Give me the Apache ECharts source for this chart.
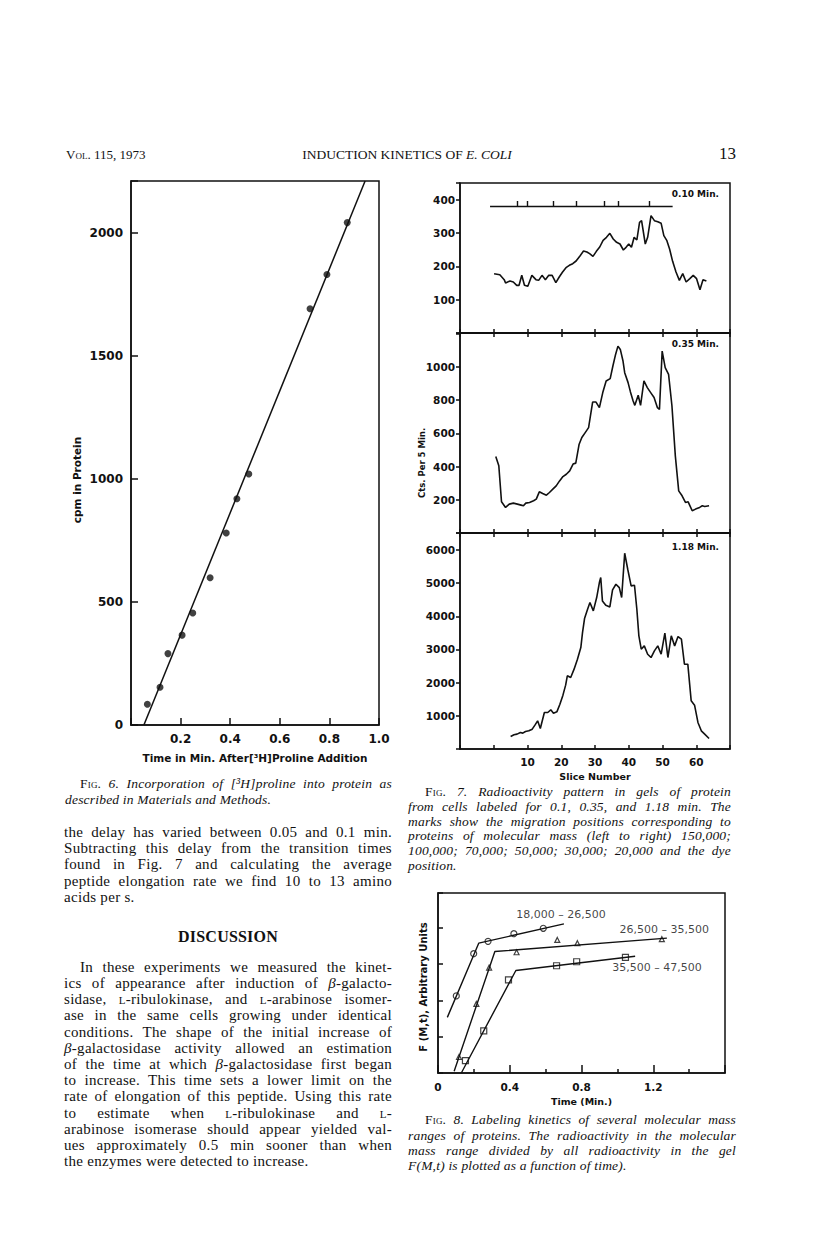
<!DOCTYPE html>
<html>
<head>
<meta charset="utf-8">
<script src="https://cdn.jsdelivr.net/npm/echarts@6/dist/echarts.min.js"></script>
<style>
html, body { margin: 0; padding: 0; background: #fff; }
#page { position: relative; width: 816px; height: 1244px; overflow: hidden; }
#chart { position: absolute; left: 0; top: 0; width: 816px; height: 1244px; }
.ln { position: absolute; white-space: nowrap; font-family: "Liberation Serif", serif; font-size: 15px; line-height: 16px; color: #111; letter-spacing: 0.3px; }
.j { text-align: justify; text-align-last: justify; }
.cap { font-style: italic; font-size: 13.5px; letter-spacing: 0.2px; }
.sc { font-variant: small-caps; font-style: normal; }
</style>
</head>
<body>
<div id="page">
  <div id="chart"></div>

  <!-- running head -->
  <div class="ln" style="left:66px;top:147px;font-size:13px;letter-spacing:0"><span class="sc">Vol.</span> 115, 1973</div>
  <div class="ln" style="left:200px;top:147px;width:414px;text-align:center;font-size:13.5px;letter-spacing:0">INDUCTION KINETICS OF <i>E. COLI</i></div>
  <div class="ln" style="left:719px;top:146px;font-size:17px;letter-spacing:0">13</div>

  <!-- fig 6 caption -->
  <div class="ln cap j" style="left:80px;top:776px;width:312px"><span class="sc">Fig.</span> 6. Incorporation of [³<i>H</i>]proline into protein as</div>
  <div class="ln cap" style="left:65px;top:792px">described in Materials and Methods.</div>

  <!-- left column text -->
  <div class="ln j" style="left:64px;top:824px;width:328px">the delay has varied between 0.05 and 0.1 min.</div>
  <div class="ln j" style="left:64px;top:840px;width:328px">Subtracting this delay from the transition times</div>
  <div class="ln j" style="left:64px;top:856px;width:328px">found in Fig. 7 and calculating the average</div>
  <div class="ln j" style="left:64px;top:873px;width:328px">peptide elongation rate we find 10 to 13 amino</div>
  <div class="ln" style="left:64px;top:889px">acids per s.</div>

  <div class="ln" style="left:64px;top:929px;width:328px;text-align:center;font-weight:bold;font-size:16px;letter-spacing:0.2px">DISCUSSION</div>

  <div class="ln j" style="left:80px;top:959px;width:312px">In these experiments we measured the kinet-</div>
  <div class="ln j" style="left:64px;top:975px;width:328px">ics of appearance after induction of <i>β</i>-galacto-</div>
  <div class="ln j" style="left:64px;top:991px;width:328px">sidase, <span class="sc">l</span>-ribulokinase, and <span class="sc">l</span>-arabinose isomer-</div>
  <div class="ln j" style="left:64px;top:1007px;width:328px">ase in the same cells growing under identical</div>
  <div class="ln j" style="left:64px;top:1024px;width:328px">conditions. The shape of the initial increase of</div>
  <div class="ln j" style="left:64px;top:1040px;width:328px"><i>β</i>-galactosidase activity allowed an estimation</div>
  <div class="ln j" style="left:64px;top:1056px;width:328px">of the time at which <i>β</i>-galactosidase first began</div>
  <div class="ln j" style="left:64px;top:1072px;width:328px">to increase. This time sets a lower limit on the</div>
  <div class="ln j" style="left:64px;top:1088px;width:328px">rate of elongation of this peptide. Using this rate</div>
  <div class="ln j" style="left:64px;top:1105px;width:328px">to estimate when <span class="sc">l</span>-ribulokinase and <span class="sc">l</span>-</div>
  <div class="ln j" style="left:64px;top:1121px;width:328px">arabinose isomerase should appear yielded val-</div>
  <div class="ln j" style="left:64px;top:1137px;width:328px">ues approximately 0.5 min sooner than when</div>
  <div class="ln" style="left:64px;top:1153px">the enzymes were detected to increase.</div>

  <!-- fig 7 caption -->
  <div class="ln cap j" style="left:425px;top:784px;width:306px"><span class="sc">Fig.</span> 7. Radioactivity pattern in gels of protein</div>
  <div class="ln cap j" style="left:408px;top:799px;width:323px">from cells labeled for 0.1, 0.35, and 1.18 min. The</div>
  <div class="ln cap j" style="left:408px;top:814px;width:323px">marks show the migration positions corresponding to</div>
  <div class="ln cap j" style="left:408px;top:828px;width:323px">proteins of molecular mass (left to right) 150,000;</div>
  <div class="ln cap j" style="left:408px;top:843px;width:323px">100,000; 70,000; 50,000; 30,000; 20,000 and the dye</div>
  <div class="ln cap" style="left:408px;top:858px">position.</div>

  <!-- fig 8 caption -->
  <div class="ln cap j" style="left:425px;top:1112px;width:311px"><span class="sc">Fig.</span> 8. Labeling kinetics of several molecular mass</div>
  <div class="ln cap j" style="left:408px;top:1128px;width:328px">ranges of proteins. The radioactivity in the molecular</div>
  <div class="ln cap j" style="left:408px;top:1143px;width:328px">mass range divided by all radioactivity in the gel</div>
  <div class="ln cap" style="left:408px;top:1158px"><i>F</i>(<i>M</i>,<i>t</i>) is plotted as a function of time).</div>
</div>

<script>
// ---- Fig. 6: cpm in protein vs time
var f6Time = [0.066, 0.117, 0.149, 0.206, 0.249, 0.319, 0.384, 0.427, 0.475, 0.722, 0.790, 0.872];
var f6Cpm = [84, 153, 290, 365, 455, 598, 780, 919, 1020, 1691, 1830, 2041];
var f6FitTime = [0.052, 0.944];
var f6FitCpm = [0, 2210];

// ---- Fig. 7: counts per slice, three labelling times
var p1Slice = [0.1, 1.8, 3.1, 3.5, 4.8, 5.8, 6.8, 7.5, 8.3, 9.1, 10.1, 11.3, 12.5, 13.3, 14.3, 15.3, 16.3, 17.3, 18.4, 19.4, 20.4, 21.4, 22.4, 23.4, 24.4, 25.6, 26.6, 27.6, 28.4, 29.4, 30.4, 31.4, 32.4, 33.4, 34.4, 35.4, 36.4, 37.4, 38.4, 39.2, 40.0, 40.8, 41.6, 42.4, 43.2, 43.8, 44.9, 45.6, 46.6, 47.6, 48.6, 49.6, 50.4, 51.3, 52.1, 53.0, 54.0, 55.0, 56.0, 57.0, 58.1, 59.1, 60.1, 61.1, 62.0, 63.0];
var p1Cts = [178, 175, 160, 150, 156, 153, 143, 143, 173, 143, 140, 173, 160, 158, 173, 160, 173, 173, 151, 168, 183, 196, 203, 208, 216, 232, 246, 243, 238, 230, 245, 258, 278, 287, 299, 282, 272, 267, 249, 257, 267, 257, 287, 279, 332, 337, 267, 287, 352, 337, 334, 329, 292, 277, 252, 215, 183, 158, 178, 153, 163, 173, 163, 130, 160, 156];

var p2Slice = [0.6, 1.5, 2.3, 3.5, 4.6, 5.8, 7.0, 8.1, 8.8, 9.5, 10.6, 11.8, 12.6, 13.5, 14.5, 15.6, 16.5, 17.5, 18.5, 19.5, 20.5, 21.5, 22.5, 23.5, 24.3, 25.3, 26.1, 27.1, 28.1, 28.8, 29.3, 30.3, 31.3, 32.3, 33.3, 34.5, 35.3, 36.1, 36.8, 37.5, 38.3, 38.8, 39.8, 40.5, 41.3, 41.8, 42.8, 43.5, 44.5, 45.5, 46.5, 47.5, 48.5, 49.1, 49.9, 50.8, 51.8, 52.8, 53.8, 54.8, 55.8, 56.8, 57.6, 58.8, 59.8, 61.0, 61.8, 62.5, 63.8];
var p2Cts = [461, 405, 188, 154, 174, 180, 174, 168, 164, 180, 184, 194, 204, 248, 238, 228, 244, 264, 284, 314, 340, 354, 374, 415, 421, 535, 575, 605, 635, 725, 789, 789, 755, 846, 916, 930, 1006, 1076, 1126, 1106, 1036, 966, 906, 850, 795, 769, 830, 769, 916, 876, 846, 816, 755, 745, 1096, 996, 956, 765, 465, 254, 224, 184, 188, 134, 144, 154, 164, 160, 164];

var p3Slice = [5.0, 6.0, 6.9, 7.9, 8.6, 9.4, 10.4, 11.4, 12.2, 13.0, 13.8, 15.0, 16.0, 16.9, 17.7, 18.7, 19.6, 20.5, 21.3, 21.8, 22.8, 23.8, 24.8, 25.8, 26.3, 26.9, 27.8, 28.5, 29.5, 30.5, 31.3, 31.7, 32.2, 33.2, 34.4, 35.2, 36.2, 37.2, 37.9, 38.8, 39.7, 40.7, 41.7, 42.4, 43.0, 43.7, 44.6, 45.6, 46.6, 47.6, 48.6, 49.6, 50.7, 51.6, 52.6, 53.6, 54.6, 55.6, 56.5, 57.5, 58.5, 59.5, 60.5, 61.5, 62.5, 63.8];
var p3Cts = [378, 428, 448, 498, 478, 528, 548, 598, 719, 849, 618, 1100, 1100, 1180, 1080, 1120, 1351, 1623, 1924, 2205, 2155, 2406, 2707, 3058, 3510, 3932, 4213, 4414, 4163, 4564, 5016, 5167, 4464, 4333, 4283, 4795, 4966, 4865, 4564, 5900, 5418, 4916, 4936, 4213, 3410, 3008, 3108, 2857, 2757, 2958, 3108, 2857, 3490, 2757, 3410, 3108, 3390, 3309, 2556, 2556, 1452, 1321, 800, 548, 448, 318];

// marker positions (150k,100k,70k,50k,30k,20k, dye) drawn in the 0.10 min panel
var markerSlices = [7.1, 9.8, 17.6, 24.3, 32.7, 36.9, 46.0];
var markerLineSlices = [-1.1, 53.0];
var markerLevel = 381;
var markerTop = 396;

// ---- Fig. 8: F(M,t) vs time, three mass ranges
var f8Names = ['18,000 – 26,500', '26,500 – 35,500', '35,500 – 47,500'];
var s1Time = [0.102, 0.199, 0.279, 0.423, 0.587];
var s1F = [2.12, 3.28, 3.62, 3.83, 3.98];
var s1LineTime = [0.052, 0.227, 0.702];
var s1LineF = [1.53, 3.57, 4.10];
var s2Time = [0.117, 0.214, 0.285, 0.438, 0.665, 0.777, 1.248];
var s2F = [0.44, 1.90, 2.90, 3.32, 3.66, 3.57, 3.68];
var s2LineTime = [0.09, 0.317, 1.276];
var s2LineF = [0.05, 3.34, 3.71];
var s3Time = [0.153, 0.255, 0.393, 0.661, 0.773, 1.045];
var s3F = [0.34, 1.16, 2.56, 2.95, 3.06, 3.18];
var s3LineTime = [0.13, 0.434, 1.099];
var s3LineF = [0.0, 2.82, 3.21];
var f8LabelTime = [0.686, 1.261, 1.221];
var f8LabelF = [4.35, 3.95, 2.89];

function pairs(xs, ys) {
  return xs.map(function (x, i) { return [x, ys[i]]; });
}

var ink = '#111';
var tickFont = { color: ink, fontFamily: 'DejaVu Sans', fontWeight: 'bold' };
var blackLine = { show: true, onZero: false, lineStyle: { color: ink, width: 1.5 } };

function panelX(grid, pos, showLabels) {
  return {
    type: 'value', gridIndex: grid, position: pos, min: -10, max: 70, interval: 10,
    axisLine: blackLine,
    axisTick: { show: true, inside: true, length: 4, lineStyle: { color: ink, width: 1.5 } },
    axisLabel: Object.assign({ show: showLabels, fontSize: 10.5, margin: 7,
      formatter: function (v) { return (v >= 10 && v <= 60) ? String(v) : ''; } }, tickFont),
    splitLine: { show: false }
  };
}

function panelY(grid, max, step, top) {
  return {
    type: 'value', gridIndex: grid, min: 0, max: max, interval: step,
    axisLine: blackLine,
    axisTick: { show: true, inside: false, length: 4, lineStyle: { color: ink, width: 1.5 } },
    axisLabel: Object.assign({ fontSize: 10.5, margin: 5,
      formatter: function (v) { return (v > 0 && v <= top && v % step === 0) ? String(v) : ''; } }, tickFont),
    splitLine: { show: false }
  };
}

var gridBox = { show: true, borderColor: ink, borderWidth: 1.5, backgroundColor: 'transparent' };
function hollow(sym) {
  return { symbol: sym, symbolSize: 6, itemStyle: { color: '#fff', borderColor: ink, borderWidth: 1.2 } };
}

var option = {
  animation: false,
  grid: [
    Object.assign({ left: 131, top: 181, width: 248, height: 544 }, gridBox),
    Object.assign({ left: 460, top: 183, width: 270, height: 150 }, gridBox),
    Object.assign({ left: 460, top: 333, width: 270, height: 200 }, gridBox),
    Object.assign({ left: 460, top: 533, width: 270, height: 216 }, gridBox),
    Object.assign({ left: 438, top: 893, width: 287, height: 180 }, gridBox)
  ],
  xAxis: [
    {
      type: 'value', gridIndex: 0, min: 0, max: 1, interval: 0.2,
      axisLine: blackLine,
      axisTick: { show: true, inside: true, length: 7, lineStyle: { color: ink, width: 1.5 } },
      axisLabel: Object.assign({ fontSize: 12, margin: 8,
        formatter: function (v) { return v === 0 ? '' : v.toFixed(1); } }, tickFont),
      splitLine: { show: false },
      name: 'Time in Min. After[³H]Proline Addition', nameLocation: 'middle', nameGap: 27,
      nameTextStyle: { color: ink, fontFamily: 'DejaVu Sans', fontWeight: 'bold', fontSize: 10.5 }
    },
    panelX(1, 'bottom', false),
    panelX(2, 'bottom', false),
    panelX(2, 'top', false),
    Object.assign(panelX(3, 'bottom', true), {
      name: 'Slice Number', nameLocation: 'middle', nameGap: 22,
      nameTextStyle: { color: ink, fontFamily: 'DejaVu Sans', fontWeight: 'bold', fontSize: 9.5 }
    }),
    panelX(3, 'top', false),
    {
      type: 'value', gridIndex: 4, min: 0, max: 1.6, interval: 0.4,
      axisLine: blackLine,
      axisTick: { show: true, inside: true, length: 8, lineStyle: { color: ink, width: 1.5 } },
      minorTick: { show: true, splitNumber: 2, length: 4, lineStyle: { color: ink, width: 1.5 } },
      axisLabel: Object.assign({ fontSize: 10.5, margin: 8,
        formatter: function (v) { return v === 0 ? '0' : (v > 1.5 ? '' : v.toFixed(1)); } }, tickFont),
      splitLine: { show: false },
      name: 'Time (Min.)', nameLocation: 'middle', nameGap: 23,
      nameTextStyle: { color: ink, fontFamily: 'DejaVu Sans', fontWeight: 'bold', fontSize: 9.5 }
    }
  ],
  yAxis: [
    {
      type: 'value', gridIndex: 0, min: 0, max: 2210, interval: 500,
      axisLine: blackLine,
      axisTick: { show: true, inside: true, length: 7, lineStyle: { color: ink, width: 1.5 } },
      axisLabel: Object.assign({ fontSize: 12, margin: 8,
        formatter: function (v) { return v % 500 === 0 ? String(v) : ''; } }, tickFont),
      splitLine: { show: false }
    },
    panelY(1, 450, 100, 400),
    panelY(2, 1205, 200, 1000),
    panelY(3, 6510, 1000, 6000),
    {
      type: 'value', gridIndex: 4, min: 0, max: 4.95, interval: 1,
      axisLine: blackLine,
      axisTick: { show: true, inside: true, length: 5, lineStyle: { color: ink, width: 1.5 } },
      axisLabel: { show: false },
      splitLine: { show: false }
    }
  ],
  graphic: [
    { type: 'text', x: 77, y: 480, rotation: Math.PI / 2,
      style: { text: 'cpm in Protein', align: 'center', verticalAlign: 'middle', fill: ink,
        font: 'bold 10.5px "DejaVu Sans"' } },
    { type: 'text', x: 422, y: 463, rotation: Math.PI / 2,
      style: { text: 'Cts. Per 5 Min.', align: 'center', verticalAlign: 'middle', fill: ink,
        font: 'bold 8.5px "DejaVu Sans"' } },
    { type: 'text', x: 423, y: 987, rotation: Math.PI / 2,
      style: { text: 'F (M,t), Arbitrary Units', align: 'center', verticalAlign: 'middle', fill: ink,
        font: 'bold 10px "DejaVu Sans"' } },
    { type: 'text', x: 719, y: 194,
      style: { text: '0.10 Min.', align: 'right', verticalAlign: 'middle', fill: ink, font: 'bold 9px "DejaVu Sans"' } },
    { type: 'text', x: 719, y: 344,
      style: { text: '0.35 Min.', align: 'right', verticalAlign: 'middle', fill: ink, font: 'bold 9px "DejaVu Sans"' } },
    { type: 'text', x: 719, y: 547,
      style: { text: '1.18 Min.', align: 'right', verticalAlign: 'middle', fill: ink, font: 'bold 9px "DejaVu Sans"' } }
  ],
  series: [
    // fig 6
    { type: 'line', xAxisIndex: 0, yAxisIndex: 0, data: pairs(f6FitTime, f6FitCpm),
      showSymbol: false, lineStyle: { color: ink, width: 1.5 } },
    { type: 'scatter', xAxisIndex: 0, yAxisIndex: 0, data: pairs(f6Time, f6Cpm),
      symbol: 'circle', symbolSize: 7, itemStyle: { color: ink } },
    // fig 7
    { type: 'line', xAxisIndex: 1, yAxisIndex: 1, data: pairs(p1Slice, p1Cts),
      showSymbol: false, lineStyle: { color: ink, width: 1.6 } },
    { type: 'lines', coordinateSystem: 'cartesian2d', xAxisIndex: 1, yAxisIndex: 1,
      lineStyle: { color: ink, width: 1.4, opacity: 1 },
      data: [{ coords: [[markerLineSlices[0], markerLevel], [markerLineSlices[1], markerLevel]] }].concat(
        markerSlices.map(function (s) { return { coords: [[s, markerLevel], [s, markerTop]] }; })) },
    { type: 'line', xAxisIndex: 2, yAxisIndex: 2, data: pairs(p2Slice, p2Cts),
      showSymbol: false, lineStyle: { color: ink, width: 1.6 } },
    { type: 'line', xAxisIndex: 4, yAxisIndex: 3, data: pairs(p3Slice, p3Cts),
      showSymbol: false, lineStyle: { color: ink, width: 1.6 } },
    // fig 8
    { type: 'line', xAxisIndex: 6, yAxisIndex: 4, data: pairs(s1LineTime, s1LineF),
      showSymbol: false, lineStyle: { color: ink, width: 1.4 } },
    { type: 'line', xAxisIndex: 6, yAxisIndex: 4, data: pairs(s2LineTime, s2LineF),
      showSymbol: false, lineStyle: { color: ink, width: 1.4 } },
    { type: 'line', xAxisIndex: 6, yAxisIndex: 4, data: pairs(s3LineTime, s3LineF),
      showSymbol: false, lineStyle: { color: ink, width: 1.4 } },
    Object.assign({ type: 'scatter', xAxisIndex: 6, yAxisIndex: 4, data: pairs(s1Time, s1F) }, hollow('circle')),
    Object.assign({ type: 'scatter', xAxisIndex: 6, yAxisIndex: 4, data: pairs(s2Time, s2F) }, hollow('triangle'), { symbolSize: 5 }),
    Object.assign({ type: 'scatter', xAxisIndex: 6, yAxisIndex: 4, data: pairs(s3Time, s3F) }, hollow('rect')),
    { type: 'scatter', xAxisIndex: 6, yAxisIndex: 4, symbolSize: 0,
      data: f8Names.map(function (n, i) { return { name: n, value: [f8LabelTime[i], f8LabelF[i]] }; }),
      label: { show: true, position: 'inside', formatter: '{b}', color: ink,
        fontFamily: 'DejaVu Sans', fontSize: 11 } }
  ]
};

var myChart = echarts.init(document.getElementById('chart'), null, { renderer: 'svg' });
myChart.setOption(option);
</script>
</body>
</html>
